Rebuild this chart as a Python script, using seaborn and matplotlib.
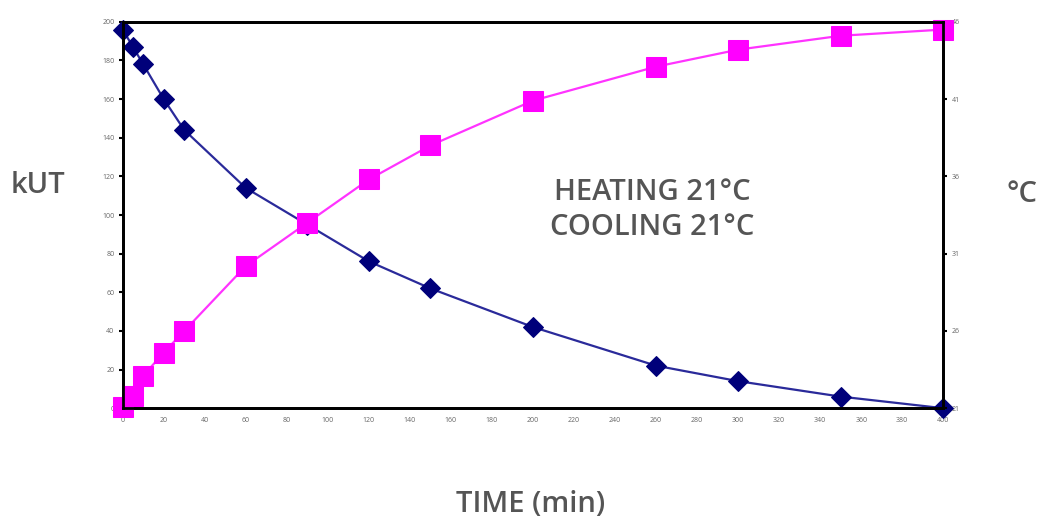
import matplotlib
matplotlib.use("Agg")
import matplotlib.pyplot as plt
import seaborn as sns
import pandas as pd

# time points (min)
time_min = [0, 5, 10, 20, 30, 60, 90, 120, 150, 200, 260, 300, 350, 400]
# kUT (left axis)
kut = [196, 187, 178, 160, 144, 114, 95, 76, 62, 42, 22, 14, 6, 0]
# temperature (right axis)
temp_c = [21.1, 21.8, 23.1, 24.6, 26.0, 30.2, 33.0, 35.8, 38.0, 40.9, 43.1, 44.2, 45.1, 45.5]

x_ticks = list(range(0, 401, 20))
left_ticks = list(range(0, 201, 20))
right_ticks = [21, 26, 31, 36, 41, 46]

df = pd.DataFrame({"time": time_min, "kut": kut, "temp": temp_c})

sns.set_style("white")
plt.rcParams['font.family'] = ['Open Sans', 'DejaVu Sans']

fig = plt.figure(figsize=(10.4, 5.2), dpi=100)
ax = fig.add_axes([0.118, 0.215, 0.789, 0.743])
ax2 = ax.twinx()

sns.lineplot(data=df, x="time", y="kut", ax=ax, color="#2a2a9a", linewidth=1.6,
             marker="D", markersize=10, markerfacecolor="#00007a",
             markeredgecolor="#00007a")
sns.lineplot(data=df, x="time", y="temp", ax=ax2, color="#ff33ff", linewidth=1.6,
             marker="s", markersize=15, markerfacecolor="#ff00ff",
             markeredgecolor="#ff00ff")

ax.set_xlim(0, 400)
ax.set_ylim(0, 200)
ax2.set_ylim(21, 46)
ax.set_xticks(x_ticks)
ax.set_yticks(left_ticks)
ax2.set_yticks(right_ticks)

for a in (ax, ax2):
    for s in a.spines.values():
        s.set_color("black")
        s.set_linewidth(2)
    a.tick_params(length=3, width=1.5, color="black", labelsize=5,
                  labelcolor="#666666", pad=3)
    a.set_xlabel("")
    a.set_ylabel("")

for line in ax.lines + ax2.lines:
    line.set_clip_on(False)

label_style = dict(fontsize=21, fontweight=600, color="#555555",
                   ha="center", va="center")
fig.text(0.037, 0.644, "kUT", **label_style)
fig.text(0.983, 0.625, "°C", **label_style)
fig.text(0.51, 0.029, "TIME (min)", **label_style)
ax.text(0.645, 0.513, "HEATING 21°C\nCOOLING 21°C", transform=ax.transAxes,
        linespacing=1.3, **label_style)

fig.savefig("out.png", dpi=100)
